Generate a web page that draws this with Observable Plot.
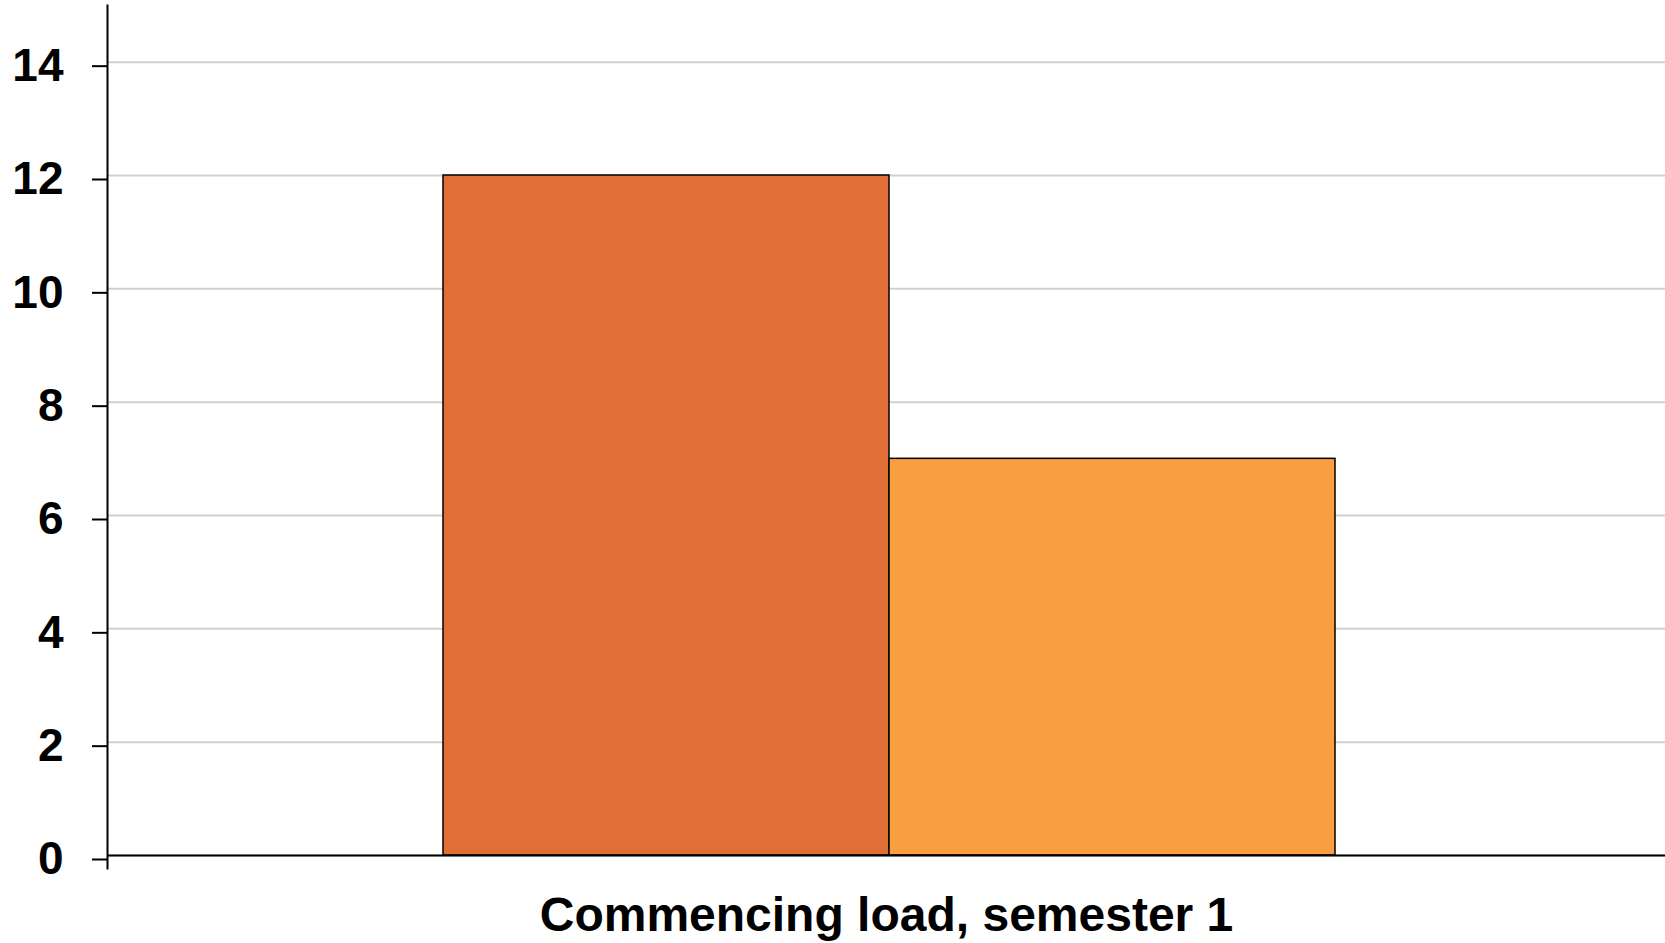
<!DOCTYPE html>
<html>
<head>
<meta charset="utf-8">
<script src="https://cdn.jsdelivr.net/npm/d3@7"></script>
<script src="https://cdn.jsdelivr.net/npm/@observablehq/plot@0.6"></script>
<style>
  html, body { margin: 0; padding: 0; background: white; }
  #chart { width: 1665px; height: 943px; }
</style>
</head>
<body>
<div id="chart"></div>
<script>
const categories = ["Commencing load, semester 1"];
const seriesNames = ["Series 1", "Series 2"];
const values = [12, 7];
const seriesColors = ["#df6e37", "#f99f42"];
const yTicks = [0, 2, 4, 6, 8, 10, 12, 14];

const data = seriesNames.map((s, i) => ({category: categories[0], series: s, value: values[i]}));

const chart = Plot.plot({
  width: 1665,
  height: 943,
  marginLeft: 107,
  marginRight: 0,
  marginTop: 5,
  marginBottom: 88,
  style: {fontFamily: "'Liberation Sans', Arial, sans-serif", fontSize: "46px", fontWeight: "bold", background: "white", color: "black"},
  fx: {domain: categories, padding: 0, label: null},
  x: {domain: seriesNames, paddingInner: 0, paddingOuter: 0.743, align: 0.505, axis: null},
  y: {domain: [0, 15], label: null},
  color: {domain: seriesNames, range: seriesColors},
  marks: [
    Plot.gridY(yTicks, {stroke: "#d0d0d0", strokeOpacity: 1, strokeWidth: 2}),
    Plot.barY(data, {fx: "category", x: "series", y: "value", fill: "series", stroke: "black", strokeWidth: 1.5}),
    Plot.ruleY([0], {stroke: "black", strokeWidth: 2}),
    Plot.frame({anchor: "left", stroke: "black", strokeWidth: 2, insetBottom: -13}),
    Plot.axisY(yTicks, {tickSize: 15, tickPadding: 29, strokeWidth: 2, label: null, dy: 4, tickFormat: d3.format("d")}),
    Plot.axisFx({anchor: "bottom", tickSize: 0, tickPadding: 41, label: null, fontSize: 48})
  ]
});
document.getElementById("chart").appendChild(chart);
</script>
</body>
</html>
